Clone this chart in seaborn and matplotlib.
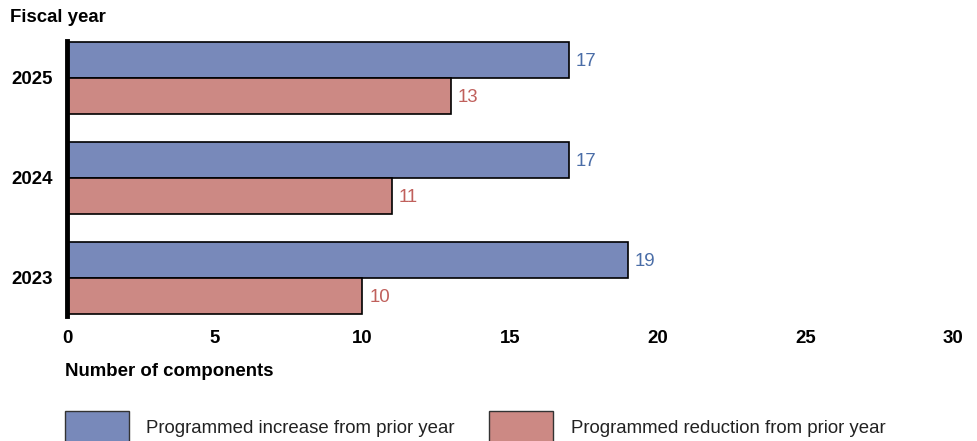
import matplotlib
matplotlib.use("Agg")
import matplotlib.pyplot as plt
import matplotlib.patches as mpatches
import seaborn as sns
import pandas as pd

years = ["2025", "2024", "2023"]
increase = [17, 17, 19]
reduction = [13, 11, 10]
series_names = ["Programmed increase from prior year", "Programmed reduction from prior year"]
x_ticks = [0, 5, 10, 15, 20, 25, 30]

bar_colors = ["#7889BA", "#CC8984"]
label_colors = ["#4A6DA7", "#C0605C"]
fs = 13.4

sns.set_theme(style="white")
plt.rcParams["font.family"] = ["Liberation Sans", "DejaVu Sans"]
plt.rcParams["text.color"] = "black"
plt.rcParams["xtick.color"] = "black"
plt.rcParams["ytick.color"] = "black"

df = pd.DataFrame({
    "year": years * 2,
    "value": increase + reduction,
    "series": [series_names[0]] * len(years) + [series_names[1]] * len(years),
})

fig = plt.figure(figsize=(9.78, 4.41), dpi=100)
ax = fig.add_axes([67 / 978, 1 - 316 / 441, (953 - 67) / 978, 275 / 441])

sns.barplot(
    data=df, x="value", y="year", hue="series", order=years,
    hue_order=series_names, palette=bar_colors, orient="h",
    width=0.72, edgecolor="black", linewidth=1.2, saturation=1,
    legend=False, ax=ax,
)

for container, col in zip(ax.containers, label_colors):
    texts = ax.bar_label(container, labels=[f"{v:g}" for v in container.datavalues],
                         padding=5, color=col, fontsize=fs)
    for t in texts:
        t.set_verticalalignment("center_baseline")

ax.set_xlim(0, 30)
ax.set_ylim(2.38, -0.37)
ax.set_xticks(x_ticks)
ax.set_xticklabels([str(t) for t in x_ticks], fontsize=fs, fontweight="bold")
ax.set_yticklabels(years, fontsize=fs, fontweight="bold", va="center_baseline")
ax.tick_params(axis="x", length=0, pad=10)
ax.tick_params(axis="y", length=0, pad=10)
ax.set_xlabel("")
ax.set_ylabel("")
for side in ["top", "right", "bottom"]:
    ax.spines[side].set_visible(False)
ax.spines["left"].set_color("black")
ax.spines["left"].set_linewidth(3.5)

fig.text(10 / 978, 1 - 18 / 441, "Fiscal year", fontsize=fs, fontweight="bold",
         ha="left", va="center")
fig.text(65 / 978, 1 - 371 / 441, "Number of components", fontsize=fs,
         fontweight="bold", ha="left", va="center")

handles = [mpatches.Patch(facecolor=c, edgecolor="#333333", linewidth=1.0)
           for c in bar_colors]
fig.legend(handles, series_names, loc="center left",
           bbox_to_anchor=(65 / 978, 1 - 427 / 441), ncol=2, frameon=False,
           fontsize=fs, handlelength=3.45, handleheight=2.35,
           handletextpad=0.92, columnspacing=1.85, borderpad=0, borderaxespad=0,
           labelcolor="#222222")

fig.savefig("out.png", dpi=100)
